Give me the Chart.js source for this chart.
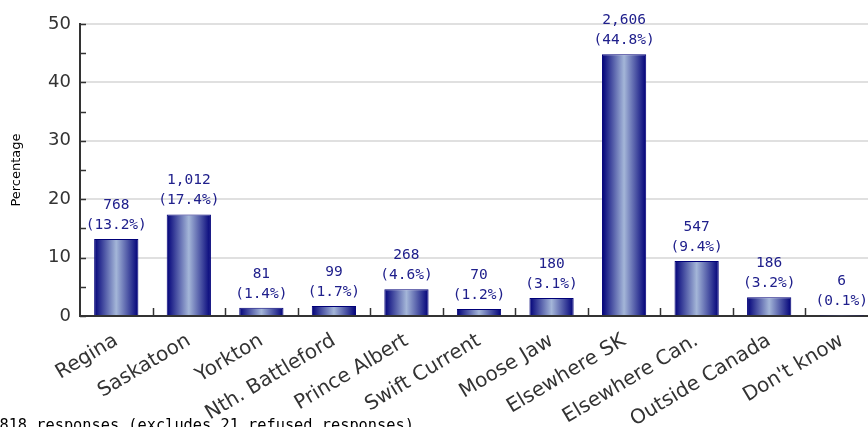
<!DOCTYPE html>
<html>
<head>
<meta charset="utf-8">
<script src="https://cdn.jsdelivr.net/npm/chart.js@4/dist/chart.umd.min.js"></script>
<style>
  html, body { margin: 0; padding: 0; background: #fff; overflow: hidden; }
  #wrap { position: relative; width: 868px; height: 427px; overflow: hidden; }
  #chart { position: absolute; left: 0; top: 0; }
  #note {
    position: absolute; left: -19px; top: 416px;
    font: 15.3px "DejaVu Sans Mono", monospace; color: #000; white-space: nowrap;
  }
</style>
</head>
<body>
<div id="wrap">
  <canvas id="chart" width="880" height="427"></canvas>
  <div id="note">5,818 responses (excludes 21 refused responses)</div>
</div>
<script>
// categorias e valores
const categories = ["Regina", "Saskatoon", "Yorkton", "Nth. Battleford", "Prince Albert",
  "Swift Current", "Moose Jaw", "Elsewhere SK", "Elsewhere Can.", "Outside Canada", "Don't know"];
const percentages = [13.2, 17.4, 1.4, 1.7, 4.6, 1.2, 3.1, 44.8, 9.4, 3.2, 0.1];
const counts = [768, 1012, 81, 99, 268, 70, 180, 2606, 547, 186, 6];
const yTicks = [0, 10, 20, 30, 40, 50];
const yMinorTicks = [5, 15, 25, 35, 45];

const BAR_PCT = 0.61;

// gradiente horizontal em cada barra (escuro nas bordas, claro no meio)
function barGradient(c) {
  const chart = c.chart;
  const xs = chart.scales.x;
  if (!xs || !chart.chartArea) return "#000078";
  const cx = xs.getPixelForValue(c.dataIndex);
  const half = (xs.width / categories.length) * BAR_PCT / 2;
  const g = chart.ctx.createLinearGradient(cx - half, 0, cx + half, 0);
  g.addColorStop(0, "#000078");
  g.addColorStop(0.5, "#a4b6d8");
  g.addColorStop(1, "#000078");
  return g;
}

// rotulos acima das barras: contagem e percentual
const valueLabels = {
  id: "valueLabels",
  afterDatasetsDraw(chart) {
    const ctx = chart.ctx;
    const meta = chart.getDatasetMeta(0);
    ctx.save();
    ctx.font = '14.5px "DejaVu Sans Mono", monospace';
    ctx.fillStyle = "#20208c";
    ctx.textAlign = "center";
    ctx.textBaseline = "middle";
    meta.data.forEach((bar, i) => {
      ctx.fillText(counts[i].toLocaleString("en-US"), bar.x, bar.y - 34);
      ctx.fillText("(" + percentages[i].toFixed(1) + "%)", bar.x, bar.y - 14);
    });
    ctx.restore();
  },
};

// marcas dos eixos desenhadas para dentro da area do grafico
const insideTicks = {
  id: "insideTicks",
  afterDraw(chart) {
    const ctx = chart.ctx;
    const ys = chart.scales.y;
    const xs = chart.scales.x;
    const area = chart.chartArea;
    ctx.save();
    ctx.strokeStyle = "#333";
    ctx.lineWidth = 1.5;
    yTicks.concat(yMinorTicks).forEach((v) => {
      const py = Math.round(ys.getPixelForValue(v)) + 0.5;
      ctx.beginPath();
      ctx.moveTo(area.left, py);
      ctx.lineTo(area.left + 6, py);
      ctx.stroke();
    });
    for (let i = 1; i <= categories.length; i++) {
      const px = Math.round(xs.getPixelForValue(i - 0.5)) + 0.5;
      ctx.beginPath();
      ctx.moveTo(px, area.bottom);
      ctx.lineTo(px, area.bottom - 8);
      ctx.stroke();
    }
    ctx.restore();
  },
};

const chart = new Chart(document.getElementById("chart"), {
  type: "bar",
  data: {
    labels: categories,
    datasets: [{
      data: percentages,
      backgroundColor: barGradient,
      borderColor: "#000078",
      borderWidth: 1,
      categoryPercentage: 1,
      barPercentage: BAR_PCT,
    }],
  },
  options: {
    responsive: false,
    animation: false,
    events: [],
    layout: { padding: { top: 24, right: 2, left: 0, bottom: 0 } },
    plugins: {
      legend: { display: false },
      tooltip: { enabled: false },
    },
    scales: {
      x: {
        grid: { display: false },
        border: { color: "#333", width: 2 },
        ticks: {
          color: "#333",
          font: { family: "DejaVu Sans", size: 20 },
          minRotation: 31,
          maxRotation: 31,
          padding: 5,
        },
        afterFit: (scale) => { scale.height = 111; },
      },
      y: {
        min: 0,
        max: 50,
        afterBuildTicks: (scale) => { scale.ticks = yTicks.map((v) => ({ value: v })); },
        grid: { color: "#e0e0e0", tickLength: 0, lineWidth: 2 },
        border: { color: "#333", width: 2 },
        ticks: {
          color: "#333",
          font: { family: "DejaVu Sans", size: 18 },
          padding: 9,
        },
        title: {
          display: true,
          text: "Percentage",
          color: "#000",
          font: { family: "DejaVu Sans", size: 13 },
          padding: { top: 9, bottom: 10 },
        },
        afterFit: (scale) => { scale.width = 80; },
      },
    },
  },
  plugins: [valueLabels, insideTicks],
});
// segunda passada para o gradiente usar as escalas ja calculadas
chart.update();
</script>
</body>
</html>
